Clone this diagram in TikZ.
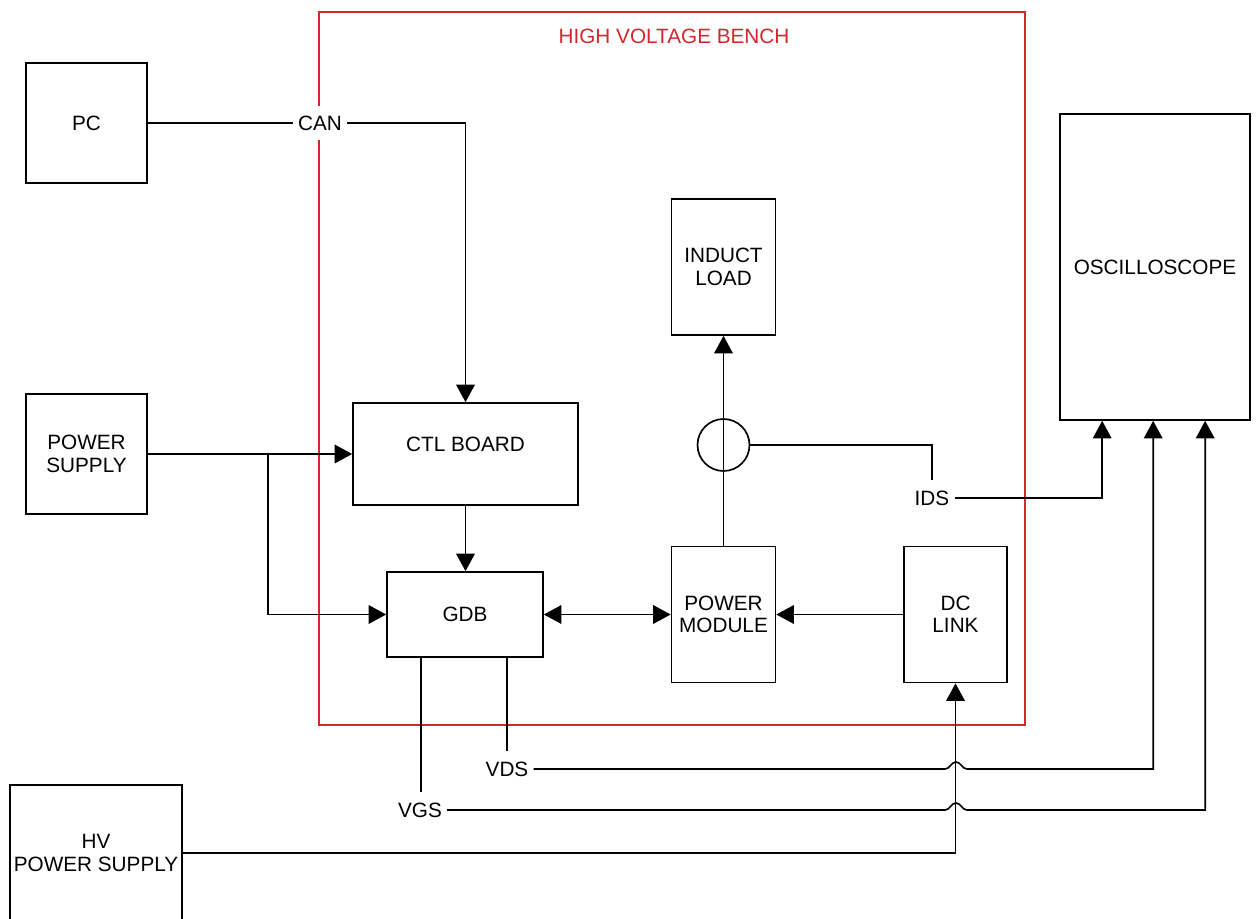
\documentclass[tikz,border=0pt]{standalone}
\usepackage{fontspec}
\setmainfont{Liberation Sans}
\usetikzlibrary{arrows.meta,calc}
\definecolor{benchred}{RGB}{210,40,45}
\begin{document}
\begin{tikzpicture}[x=0.02cm,y=-0.02cm, line width=0.95pt,
  font=\fontsize{11.8}{12.8}\selectfont,
  box/.style={draw, align=center, inner sep=0pt},
  arr/.style={-{Triangle[length=0.35cm,width=0.37cm]}},
  arrb/.style={{Triangle[length=0.35cm,width=0.37cm]}-{Triangle[length=0.35cm,width=0.37cm]}},
  lbl/.style={inner xsep=2.5pt, inner ysep=5.6pt}]
\useasboundingbox (0,0) rectangle (1257,919);
% bench
\node[draw=benchred, line width=0.75pt, minimum width=14.12cm, minimum height=14.26cm, inner sep=0pt] (bench) at (672,368.5) {};
\node[text=benchred] (title) at (674,36) {HIGH VOLTAGE BENCH};
% boxes
\node[box, minimum width=2.42cm, minimum height=2.4cm] (pc) at (86.5,123) {PC};
\node[box, minimum width=2.42cm, minimum height=2.4cm] (ps) at (86.5,454) {POWER\\SUPPLY};
\node[box, minimum width=3.44cm, minimum height=2.72cm] (hv) at (96,853) {HV\\POWER SUPPLY};
\node[box, minimum width=4.5cm, minimum height=2.04cm] (ctl) at (465.5,454) {};
\node (ctllbl) at (465.5,444) {CTL BOARD};
\node[box, minimum width=3.12cm, minimum height=1.7cm] (gdb) at (465,614.5) {GDB};
\node[box, minimum width=2.08cm, minimum height=2.72cm] (il) at (723.5,267) {INDUCT\\LOAD};
\node[box, minimum width=2.08cm, minimum height=2.72cm] (pm) at (723.5,614.5) {POWER\\MODULE};
\node[box, minimum width=2.06cm, minimum height=2.72cm] (dc) at (955.5,614.5) {DC\\LINK};
\node[box, minimum width=3.8cm, minimum height=6.12cm] (osc) at (1155,267) {OSCILLOSCOPE};
\node[draw, circle, minimum size=1.04cm, inner sep=0pt] (ct) at (723.5,445) {};
% labels
\node[lbl, fill=white] (can) at (320,123) {CAN};
\node[lbl] (ids) at (932,498) {IDS};
\node[lbl] (vds) at (507,769) {VDS};
\node[lbl] (vgs) at (420,810) {VGS};
% connectors
\draw (pc.east) -- (can.west);
\draw[arr] (can.east) -| (ctl.north);
\draw[arr] (ps.east) -- (ctl.west);
\coordinate (br) at (268,454);
\draw[arr] (br) |- (gdb.west);
\draw[arr] (ctl.south) -- (ctl.south |- gdb.north);
\draw[arrb] (gdb.east) -- (pm.west);
\draw[arr] (dc.west) -- (pm.east);
\draw[arr] (pm.north) -- (il.south);
\draw (ct.east) -| (ids.north);
\draw[arr] (ids.east) -| ([xshift=0.86cm]osc.south west);
\coordinate (vdsout) at ([xshift=2.42cm]gdb.south west);
\coordinate (vgsout) at ([xshift=0.7cm]gdb.south west);
\draw (vdsout) -- (vdsout |- vds.north);
\draw (vgsout) -- (vgsout |- vgs.north);
\draw[arr] (vds.east) -- (945,769) .. controls (950,769) and (951,762) .. (956,762) .. controls (961,762) and (962,769) .. (967,769) -| ([xshift=1.88cm]osc.south west);
\draw[arr] (vgs.east) -- (945,810) .. controls (950,810) and (951,803) .. (956,803) .. controls (961,803) and (962,810) .. (967,810) -| ([xshift=2.92cm]osc.south west);
\draw[arr] (hv.east) -| (dc.south);
\end{tikzpicture}
\end{document}
